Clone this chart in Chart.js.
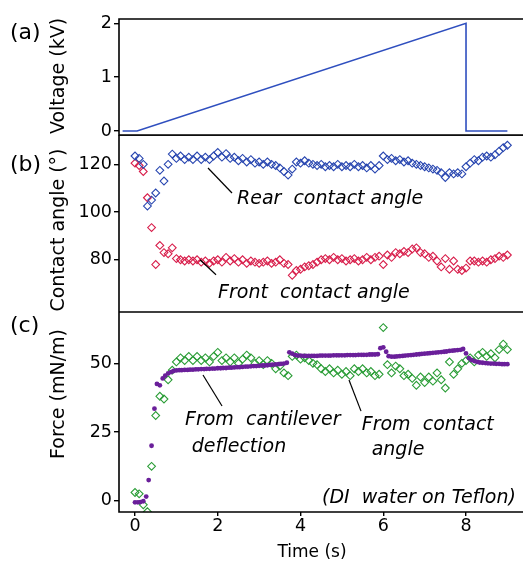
<!DOCTYPE html>
<html>
<head>
<meta charset="utf-8">
<script src="https://cdn.jsdelivr.net/npm/chart.js@4.4.0/dist/chart.umd.min.js"></script>
<style>
  html, body { margin: 0; padding: 0; background: #fff; }
  #wrap { position: relative; width: 523px; height: 570px; overflow: hidden; }
  canvas { position: absolute; left: 0; }
</style>
</head>
<body>
<div id="wrap">
  <canvas id="chartA" width="523" height="136" style="top:0px"></canvas>
  <canvas id="chartB" width="523" height="177" style="top:135px"></canvas>
  <canvas id="chartC" width="523" height="258" style="top:312px"></canvas>
</div>
<script>
// (a) applied voltage
const voltTime = [-0.3, 0.05, 8.0, 8.0, 9.0];
const voltValue = [0, 0, 2, 0, 0];

// (b) contact angles, sampled every 0.1 s
const caTime = [
  0.0, 0.1, 0.2, 0.3, 0.4, 0.5, 0.6, 0.7, 0.8, 0.9,
  1.0, 1.1, 1.2, 1.3, 1.4, 1.5, 1.6, 1.7, 1.8, 1.9,
  2.0, 2.1, 2.2, 2.3, 2.4, 2.5, 2.6, 2.7, 2.8, 2.9,
  3.0, 3.1, 3.2, 3.3, 3.4, 3.5, 3.6, 3.7, 3.8, 3.9,
  4.0, 4.1, 4.2, 4.3, 4.4, 4.5, 4.6, 4.7, 4.8, 4.9,
  5.0, 5.1, 5.2, 5.3, 5.4, 5.5, 5.6, 5.7, 5.8, 5.9,
  6.0, 6.1, 6.2, 6.3, 6.4, 6.5, 6.6, 6.7, 6.8, 6.9,
  7.0, 7.1, 7.2, 7.3, 7.4, 7.5, 7.6, 7.7, 7.8, 7.9,
  8.0, 8.1, 8.2, 8.3, 8.4, 8.5, 8.6, 8.7, 8.8, 8.9,
  9.0
];
const rearAngle = [
  123.5, 122.5, 120, 102.5, 105, 108, 117.5, 113, 120, 124.3,
  122.5, 123.5, 122, 123, 122, 123.5, 122, 123, 122, 123.5,
  125, 123, 124.5, 122.5, 123, 121.5, 122.5, 121, 122, 120.5,
  121, 120, 121, 120, 119.5, 118.5, 117, 115.5, 118, 121,
  120.5, 121.5, 120.5, 120, 119.5, 120, 119, 119.5, 119, 120,
  119, 119.5, 119, 120, 119, 119.5, 118.5, 119.5, 118, 119.5,
  123.5, 122, 122.5, 121.5, 122, 121, 121.5, 120.5, 120, 119.5,
  119, 118.5, 118, 117.5, 116.5, 114.5, 116.5, 116, 116.5, 116,
  119, 120.5, 122, 121.5, 123, 123.5, 123, 124, 125.5, 127,
  128
];
const frontAngle = [
  120.5, 119.5, 117, 106, 93.5, 78, 86, 83, 82.5, 85,
  80.5, 80, 79.5, 80, 79.5, 80, 79, 79.5, 78.5, 79.5,
  80, 79, 81, 79.5, 80.5, 79, 80, 78.5, 79.5, 79,
  78.5, 79, 79.5, 78.5, 79, 80, 78.5, 78, 73.5, 75.5,
  76, 77, 77.5, 78, 79, 80, 80.5, 80, 81, 80,
  80.5, 79.5, 80, 80.5, 79.5, 80, 81, 80, 81, 81.5,
  78, 82, 81, 83, 82.5, 83.5, 83, 84.5, 85, 83,
  82.5, 81, 81.5, 79.5, 77, 80.5, 76, 79.5, 76, 75.5,
  76.5, 79.5, 79.5, 79, 79.5, 79, 80, 80.5, 81.5, 81,
  82
];

// (c) force from contact angle (same 0.1 s frames)
const forceFromAngle = [
  3, 2.5, -1.5, -4, 12.5, 31, 38, 37, 44, 47.5,
  50.5, 52, 51, 52.5, 51, 52.5, 51, 52, 50.5, 52.5,
  54, 51, 52, 50.5, 52, 50, 51.5, 53, 52, 50,
  51, 49.5, 51, 50, 48, 49, 46.5, 45.5, 52.5, 53,
  51.5, 52, 51, 50, 49.5, 48, 47, 48, 46.5, 47.5,
  46, 47, 45.5, 48, 47, 48, 46.5, 47, 45.5, 46,
  63, 49.5, 46.5, 49, 48, 45.5, 46, 44.5, 42, 45,
  43, 45, 43.5, 46.5, 44, 41, 50.5, 46, 48, 50,
  51, 52, 50.5, 53, 54, 52.5, 53.5, 52, 55, 57,
  55
];

// (c) force from cantilever deflection, 15 frames per second
const deflTime = [
  0.00, 0.07, 0.13, 0.20, 0.27, 0.33, 0.40, 0.47, 0.53, 0.60, 0.67, 0.73, 0.80, 0.87, 0.93,
  1.00, 1.07, 1.13, 1.20, 1.27, 1.33, 1.40, 1.47, 1.53, 1.60, 1.67, 1.73, 1.80, 1.87, 1.93,
  2.00, 2.07, 2.13, 2.20, 2.27, 2.33, 2.40, 2.47, 2.53, 2.60, 2.67, 2.73, 2.80, 2.87, 2.93,
  3.00, 3.07, 3.13, 3.20, 3.27, 3.33, 3.40, 3.47, 3.53, 3.60, 3.67, 3.73, 3.80, 3.87, 3.93,
  4.00, 4.07, 4.13, 4.20, 4.27, 4.33, 4.40, 4.47, 4.53, 4.60, 4.67, 4.73, 4.80, 4.87, 4.93,
  5.00, 5.07, 5.13, 5.20, 5.27, 5.33, 5.40, 5.47, 5.53, 5.60, 5.67, 5.73, 5.80, 5.87, 5.93,
  6.00, 6.07, 6.13, 6.20, 6.27, 6.33, 6.40, 6.47, 6.53, 6.60, 6.67, 6.73, 6.80, 6.87, 6.93,
  7.00, 7.07, 7.13, 7.20, 7.27, 7.33, 7.40, 7.47, 7.53, 7.60, 7.67, 7.73, 7.80, 7.87, 7.93,
  8.00, 8.07, 8.13, 8.20, 8.27, 8.33, 8.40, 8.47, 8.53, 8.60, 8.67, 8.73, 8.80, 8.87, 8.93,
  9.00
];
const forceFromDefl = [
  -0.6, -0.6, -0.5, -0.2, 1.5, 7.5, 20, 33.5, 42.5, 42, 44.5, 45.5, 46.3, 46.8, 47.2,
  47.4, 47.5, 47.5, 47.6, 47.6, 47.7, 47.7, 47.8, 47.8, 47.9, 47.9, 48.0, 48.0, 48.1, 48.1,
  48.2, 48.2, 48.3, 48.3, 48.4, 48.4, 48.5, 48.6, 48.6, 48.7, 48.8, 48.8, 48.9, 49.0, 49.0,
  49.1, 49.2, 49.2, 49.3, 49.4, 49.5, 49.6, 49.7, 49.8, 49.9, 50.2, 54.0, 53.5, 53.0, 52.8,
  52.8, 52.7, 52.7, 52.7, 52.7, 52.7, 52.7, 52.8, 52.8, 52.8, 52.8, 52.8, 52.9, 52.9, 52.9,
  52.9, 52.9, 53.0, 53.0, 53.0, 53.0, 53.1, 53.1, 53.1, 53.1, 53.2, 53.2, 53.2, 53.3, 55.5,
  55.8, 54.2, 52.6, 52.4, 52.4, 52.5, 52.6, 52.7, 52.8, 52.9, 53.0, 53.1, 53.2, 53.3, 53.4,
  53.5, 53.6, 53.7, 53.8, 53.9, 54.0, 54.1, 54.2, 54.3, 54.5, 54.6, 54.7, 54.8, 54.9, 55.2,
  53.6, 51.9, 51.2, 50.8, 50.5, 50.3, 50.2, 50.1, 50.0, 49.9, 49.9, 49.8, 49.8, 49.7, 49.7,
  49.7
];

// tick labels
const voltTicks = [0, 1, 2];
const angleTicks = [80, 100, 120];
const forceTicks = [0, 25, 50];
const timeTicks = [0, 2, 4, 6, 8];

const FONT = '"DejaVu Sans", sans-serif';
const X_MIN = -0.387, X_MAX = 9.353;

const pts = (xs, ys) => xs.map((x, i) => ({ x: x, y: ys[i] }));

// frame, panel letter, axis title and the notes inside the panel
const panelDecor = {
  id: 'panelDecor',
  afterDraw(chart, args, opts) {
    const ctx = chart.ctx;
    const a = chart.chartArea;
    const xs = chart.scales.x, ys = chart.scales.y;
    ctx.save();
    ctx.strokeStyle = '#000';
    ctx.lineWidth = 1.6;
    ctx.beginPath();
    ctx.moveTo(chart.width, a.top);
    ctx.lineTo(a.left, a.top);
    ctx.lineTo(a.left, a.bottom);
    ctx.lineTo(chart.width, a.bottom);
    ctx.stroke();

    ctx.fillStyle = '#000';
    ctx.textAlign = 'left';
    ctx.textBaseline = 'middle';
    ctx.font = '22px ' + FONT;
    ctx.fillText(opts.tag, 10, opts.tagY);

    ctx.save();
    ctx.translate(59, opts.titleY);
    ctx.rotate(-Math.PI / 2);
    ctx.textAlign = 'center';
    ctx.font = '19px ' + FONT;
    ctx.fillText(opts.yTitle, 0, 0);
    ctx.restore();

    if (opts.xTitle) {
      ctx.textAlign = 'center';
      ctx.font = '17px ' + FONT;
      ctx.fillText(opts.xTitle, 312, opts.xTitleY);
    }

    ctx.textAlign = 'left';
    ctx.textBaseline = 'alphabetic';
    ctx.font = 'italic 19px ' + FONT;
    (opts.notes || []).forEach(n => {
      ctx.fillText(n.text, xs.getPixelForValue(n.x), ys.getPixelForValue(n.y));
    });
    ctx.lineWidth = 1.2;
    (opts.leaders || []).forEach(l => {
      ctx.beginPath();
      ctx.moveTo(xs.getPixelForValue(l[0]), ys.getPixelForValue(l[1]));
      ctx.lineTo(xs.getPixelForValue(l[2]), ys.getPixelForValue(l[3]));
      ctx.stroke();
    });
    ctx.restore();
  }
};

function yScale(min, max, ticks) {
  return {
    type: 'linear', min: min, max: max,
    afterFit: s => { s.width = 119; s.paddingTop = 0; s.paddingBottom = 0; },
    afterBuildTicks: s => { s.ticks = ticks.map(v => ({ value: v })); },
    grid: { drawOnChartArea: false, drawTicks: true, tickLength: 5, color: '#000', lineWidth: 1.4 },
    border: { display: false },
    ticks: { color: '#000', font: { family: FONT, size: 17.5 }, padding: 2 }
  };
}

function baseOptions(padding, scales, decor) {
  return {
    responsive: false,
    animation: false,
    events: [],
    layout: { padding: padding, autoPadding: false },
    scales: scales,
    plugins: { legend: { display: false }, tooltip: { enabled: false }, panelDecor: decor }
  };
}

const hiddenX = { type: 'linear', min: X_MIN, max: X_MAX, display: false };

// (a)
new Chart(document.getElementById('chartA'), {
  type: 'scatter',
  data: {
    datasets: [{
      data: pts(voltTime, voltValue),
      showLine: true,
      borderColor: '#2f4fbf',
      borderWidth: 1.6,
      pointRadius: 0
    }]
  },
  options: baseOptions({ top: 19, bottom: 1, left: 0, right: 1 },
    { x: hiddenX, y: yScale(-0.074, 2.08, voltTicks) },
    { tag: '(a)', tagY: 33, yTitle: 'Voltage (kV)', titleY: 76 }),
  plugins: [panelDecor]
});

// (b)
new Chart(document.getElementById('chartB'), {
  type: 'scatter',
  data: {
    datasets: [{
      data: pts(caTime, rearAngle),
      pointStyle: 'rectRot', pointRadius: 3.9, borderWidth: 1.1,
      borderColor: '#2846b0', backgroundColor: 'rgba(255,255,255,0)'
    }, {
      data: pts(caTime, frontAngle),
      pointStyle: 'rectRot', pointRadius: 3.9, borderWidth: 1.1,
      borderColor: '#d81e4b', backgroundColor: 'rgba(255,255,255,0)'
    }]
  },
  options: baseOptions({ top: 0, bottom: 0, left: 0, right: 1 },
    { x: hiddenX, y: yScale(58.1, 132.3, angleTicks) },
    {
      tag: '(b)', tagY: 30, yTitle: 'Contact angle (°)', titleY: 95,
      notes: [
        { text: 'Rear  contact angle', x: 2.465, y: 103.4 },
        { text: 'Front  contact angle', x: 2.006, y: 63.9 }
      ],
      leaders: [[1.764, 118.45, 2.344, 107.97], [1.571, 80.0, 1.958, 73.7]]
    }),
  plugins: [panelDecor]
});

// (c)
new Chart(document.getElementById('chartC'), {
  type: 'scatter',
  data: {
    datasets: [{
      data: pts(deflTime, forceFromDefl),
      pointStyle: 'circle', pointRadius: 2.4, borderWidth: 0,
      backgroundColor: '#6a1f9a'
    }, {
      data: pts(caTime, forceFromAngle),
      pointStyle: 'rectRot', pointRadius: 3.9, borderWidth: 1.1,
      borderColor: '#2a9d36', backgroundColor: 'rgba(255,255,255,0)'
    }]
  },
  options: baseOptions({ top: 0, bottom: 0, left: 0, right: 1 },
    {
      x: {
        type: 'linear', min: X_MIN, max: X_MAX,
        afterFit: s => { s.height = 58; s.paddingLeft = 0; s.paddingRight = 0; },
        afterBuildTicks: s => { s.ticks = timeTicks.map(v => ({ value: v })); },
        grid: { drawOnChartArea: false, drawTicks: true, tickLength: 4, color: '#000', lineWidth: 1.4 },
        border: { display: false },
        ticks: { color: '#000', font: { family: FONT, size: 17.5 }, padding: 0, maxRotation: 0 }
      },
      y: yScale(-4.11, 68.67, forceTicks)
    },
    {
      tag: '(c)', tagY: 14, yTitle: 'Force (mN/m)', titleY: 82,
      xTitle: 'Time (s)', xTitleY: 241,
      notes: [
        { text: 'From  cantilever', x: 1.208, y: 27.55 },
        { text: 'deflection', x: 1.37, y: 17.7 },
        { text: 'From  contact', x: 5.48, y: 25.7 },
        { text: 'angle', x: 5.72, y: 16.6 },
        { text: '(DI  water on Teflon)', x: 4.52, y: -0.8 }
      ],
      leaders: [[1.643, 45.74, 2.103, 34.46], [5.172, 43.9, 5.462, 32.6]]
    }),
  plugins: [panelDecor]
});
</script>
</body>
</html>
